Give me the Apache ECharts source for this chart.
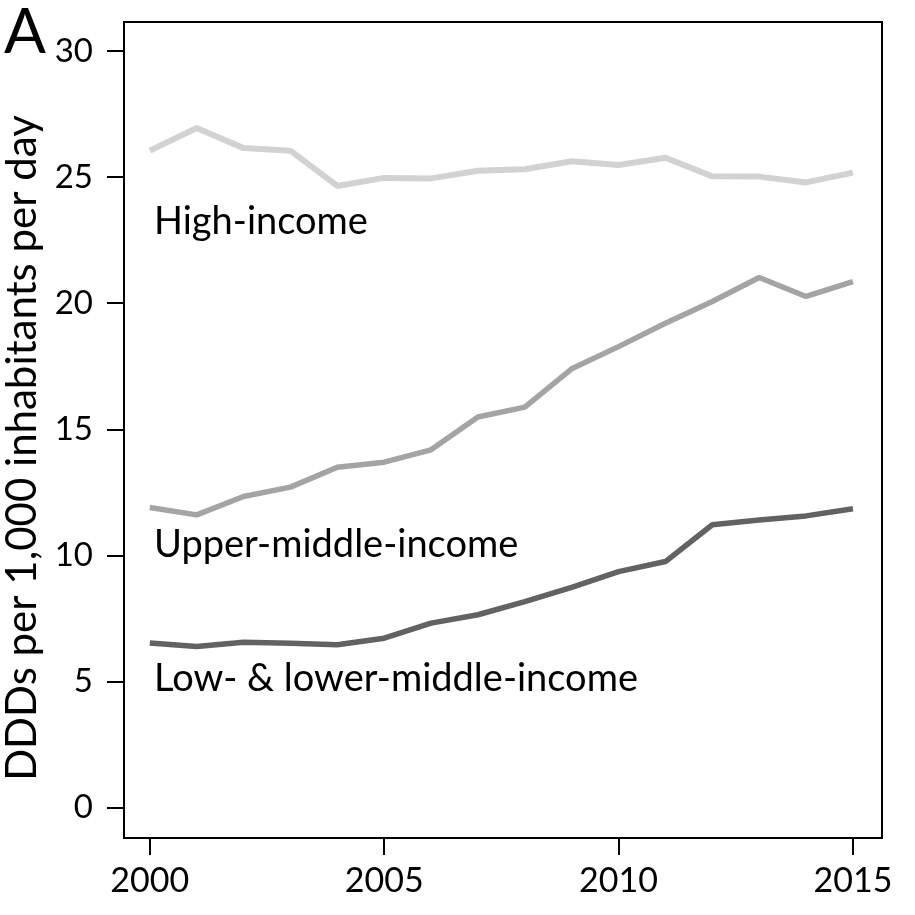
<!DOCTYPE html>
<html><head><meta charset="utf-8">
<script src="https://cdn.jsdelivr.net/npm/echarts@6/dist/echarts.min.js"></script>
<style>html,body{margin:0;padding:0;background:#fff}#c{width:915px;height:915px}</style>
</head><body><div id="c"></div>
<script>
const years = [2000,2001,2002,2003,2004,2005,2006,2007,2008,2009,2010,2011,2012,2013,2014,2015];
const highIncome = [26.05,26.95,26.15,26.05,24.65,24.97,24.95,25.25,25.31,25.63,25.48,25.77,25.03,25.02,24.79,25.18];
const upperMiddle = [11.9,11.61,12.34,12.71,13.5,13.7,14.19,15.49,15.88,17.40,18.28,19.21,20.07,21.02,20.27,20.86];
const lowLowerMiddle = [6.53,6.39,6.56,6.52,6.46,6.72,7.32,7.65,8.17,8.74,9.36,9.76,11.22,11.41,11.57,11.85];
const xTicks = [2000,2005,2010,2015];
const yTicks = [0,5,10,15,20,25,30];
const seriesNames = ['High-income','Upper-middle-income','Low- & lower-middle-income'];
const FONT = 'Lato';

const chart = echarts.init(document.getElementById('c'));
const pair = arr => years.map((y,i)=>[y,arr[i]]);
chart.setOption({
  animation:false,
  backgroundColor:'#fff',
  grid:{left:124,top:22,right:33,bottom:77,show:true,borderColor:'#000',borderWidth:2,backgroundColor:'transparent',containLabel:false,outerBoundsMode:'none'},
  xAxis:{type:'value',min:1999.45,max:2015.62,
    axisLine:{show:true,onZero:false,lineStyle:{color:'#000',width:2}},
    axisTick:{show:true,inside:false,length:17,lineStyle:{color:'#000',width:2},customValues:xTicks},
    axisLabel:{color:'#000',fontSize:34,fontFamily:FONT,margin:26,customValues:xTicks,formatter:v=>String(v)},
    splitLine:{show:false}},
  yAxis:{type:'value',min:-1.2,max:31.15,
    name:'DDDs per 1,000 inhabitants per day',nameLocation:'middle',nameRotate:90,nameGap:81,
    nameTextStyle:{color:'#000',fontSize:42,fontFamily:FONT,padding:[0,36,0,0]},
    axisLine:{show:true,onZero:false,lineStyle:{color:'#000',width:2}},
    axisTick:{show:true,inside:false,length:17,lineStyle:{color:'#000',width:2},customValues:yTicks},
    axisLabel:{color:'#000',fontSize:33,fontFamily:FONT,margin:31,customValues:yTicks},
    splitLine:{show:false}},
  series:[
    {name:seriesNames[0],type:'line',data:pair(highIncome),symbol:'none',lineStyle:{color:'#d2d2d2',width:6}},
    {name:seriesNames[1],type:'line',data:pair(upperMiddle),symbol:'none',lineStyle:{color:'#a4a4a4',width:5.5}},
    {name:seriesNames[2],type:'line',data:pair(lowLowerMiddle),symbol:'none',lineStyle:{color:'#626262',width:5.5}}
  ],
  graphic:[
    {type:'text',left:4,top:2,style:{text:'A',fontSize:62,fontFamily:FONT,fill:'#000'}},
    {type:'text',left:154,top:203,style:{text:seriesNames[0],fontSize:38,fontFamily:FONT,fill:'#000'}},
    {type:'text',left:154,top:526,style:{text:seriesNames[1],fontSize:38,fontFamily:FONT,fill:'#000'}},
    {type:'text',left:154,top:660,style:{text:seriesNames[2],fontSize:38,fontFamily:FONT,fill:'#000'}}
  ]
});
</script></body></html>
